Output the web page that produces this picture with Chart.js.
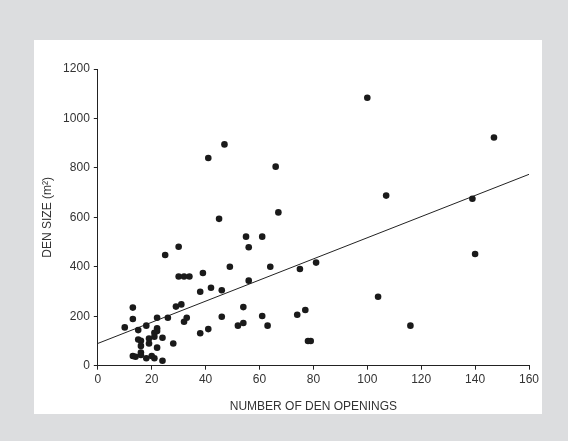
<!DOCTYPE html>
<html lang="en">
<head>
    <meta charset="UTF-8">
    <title>Den size vs openings</title>
    <script src="https://cdn.jsdelivr.net/npm/chart.js"></script>
    <style>
        html, body {
            margin: 0;
            padding: 0;
            background: #dcdddf;
        }
        #wrap {
            width: 568px;
            height: 441px;
            position: relative;
        }
    </style>
</head>
<body>
    <div id="wrap">
        <canvas id="denChart" width="568" height="441"></canvas>
    </div>
<script>
    // den openings (x) and den size in m2 (y)
    var openings = [10, 13, 13, 13, 14, 15, 15, 16, 16, 16, 16, 18, 18, 19, 19, 20, 21, 21, 21,
        22, 22, 22, 22, 24, 24, 25, 26, 28, 29, 30, 30, 31, 32, 32, 33, 34, 38, 38, 39,
        41, 41, 42, 45, 46, 46, 47, 49, 52, 54, 54, 55, 56, 56, 61, 61, 63, 64, 66, 67,
        74, 75, 77, 78, 79, 81, 100, 104, 107, 116, 139, 140, 147];
    var denSize = [155, 235, 189, 39, 36, 144, 106, 101, 80, 53, 43, 162, 30, 110, 90, 39, 30, 133, 117,
        194, 151, 140, 73, 113, 20, 448, 194, 90, 239, 481, 361, 248, 361, 178, 194, 361, 299, 131, 375,
        840, 148, 315, 594, 305, 198, 895, 400, 162, 237, 173, 522, 479, 344, 201, 522, 162, 400, 805, 620,
        206, 391, 225, 100, 100, 417, 1084, 279, 688, 162, 675, 452, 923];

    // fitted line end points
    var fitX = [0, 160];
    var fitY = [90, 774];

    var xTicks = [0, 20, 40, 60, 80, 100, 120, 140, 160];
    var yTicks = [0, 200, 400, 600, 800, 1000, 1200];

    var pts = [];
    for (let i = 0; i < openings.length; i++) {
        pts.push({x: openings[i], y: denSize[i]});
    }
    var fitPts = [];
    for (let i = 0; i < fitX.length; i++) {
        fitPts.push({x: fitX[i], y: fitY[i]});
    }

    // white panel behind the plot
    const panel = {
        id: 'panel',
        beforeDraw(chart) {
            let c = chart.ctx;
            c.save();
            c.fillStyle = '#ffffff';
            c.fillRect(34, 40, 508, 374);
            c.restore();
        }
    };

    Chart.defaults.font.family = '"Liberation Sans", Arial, sans-serif';
    Chart.defaults.font.size = 12;
    Chart.defaults.color = '#333333';

    function plain(v) { return String(v); }

    const ctx = document.getElementById('denChart');
    var chart = new Chart(ctx, {
        type: 'scatter',
        data: {
            datasets: [
                {
                    data: pts,
                    backgroundColor: '#1a1a1a',
                    borderColor: '#1a1a1a',
                    pointRadius: 3.3,
                    pointHoverRadius: 3.3,
                    borderWidth: 0
                },
                {
                    type: 'line',
                    data: fitPts,
                    borderColor: '#222222',
                    borderWidth: 1,
                    pointRadius: 0,
                    fill: false
                }
            ]
        },
        options: {
            responsive: false,
            animation: false,
            events: [],
            layout: {
                padding: {left: 34, top: 69, right: 39, bottom: 27}
            },
            plugins: {
                legend: {display: false},
                tooltip: {enabled: false}
            },
            scales: {
                x: {
                    type: 'linear',
                    min: 0,
                    max: 160,
                    afterBuildTicks: function(s) {
                        s.ticks = xTicks.map(v => ({value: v}));
                    },
                    afterFit: function(s) { s.height = 48.3; },
                    grid: {
                        drawOnChartArea: false,
                        tickLength: 4,
                        color: '#222222'
                    },
                    border: {color: '#222222', width: 1},
                    ticks: {padding: 3, maxRotation: 0, color: '#333333', callback: plain},
                    title: {
                        display: true,
                        text: 'NUMBER OF DEN OPENINGS',
                        color: '#333333',
                        font: {size: 12},
                        padding: {top: 6, bottom: 0}
                    }
                },
                y: {
                    type: 'linear',
                    min: 0,
                    max: 1200,
                    afterBuildTicks: function(s) {
                        s.ticks = yTicks.map(v => ({value: v}));
                    },
                    afterFit: function(s) { s.width = 63.8; },
                    grid: {
                        drawOnChartArea: false,
                        tickLength: 4,
                        color: '#222222'
                    },
                    border: {color: '#222222', width: 1},
                    ticks: {padding: 4, color: '#333333', callback: plain},
                    title: {
                        display: true,
                        text: 'DEN SIZE (m²)',
                        color: '#333333',
                        font: {size: 12},
                        padding: {top: 6, bottom: 0}
                    }
                }
            }
        },
        plugins: [panel]
    });
</script>
</body>
</html>
